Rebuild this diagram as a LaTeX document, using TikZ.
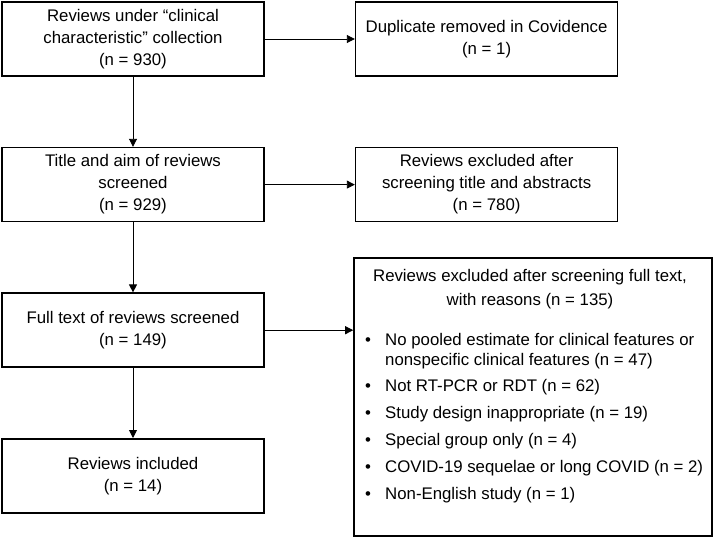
\documentclass[tikz,border=0pt]{standalone}
\usepackage{fontspec}
\setmainfont{Liberation Sans}
\usetikzlibrary{positioning}
\usetikzlibrary{arrows.meta}
\tikzset{
  stage/.style={draw, line width=1.6pt, minimum width=262pt, minimum height=74pt, align=center, inner sep=0pt},
  flow/.style={-{Triangle[length=8pt,width=8pt]}, line width=0.9pt},
}

\begin{document}
\begin{tikzpicture}[x=1pt,y=1pt,font=\fontsize{16.8}{22}\selectfont,node distance=70pt]
\useasboundingbox (0,0) rectangle (715,-538);
% main column
\node[stage] (l1) at (133,-39) {Reviews under “clinical\\characteristic” collection\\(n = 930)};
\node[stage, below=of l1] (l2) {Title and aim of reviews\\screened\\(n = 929)};
\node[stage, below=of l2] (l3) {Full text of reviews screened\\(n = 149)};
\node[stage, below=of l3] (l4) {Reviews included\\(n = 14)};
% exclusions
\node[stage, right=90pt of l1] (r1) {Duplicate removed in Covidence\\(n = 1)};
\node[stage, right=90pt of l2] (r2) {Reviews excluded after\\screening title and abstracts\\(n = 780)};
\node[draw, line width=1.6pt, minimum width=358pt, minimum height=278pt] (r3) at (533,-397) {};
\node[align=center, anchor=base] (r3hd) at (530,-305) {Reviews excluded after screening full text,\\[2pt]with reasons (n = 135)};
\foreach \i/\y/\ty/\txt in {1/345/365/{No pooled estimate for clinical features or\\[-2pt]nonspecific clinical features (n = 47)},
    2/391.5/391.5/{Not RT-PCR or RDT (n = 62)},
    3/418.5/418.5/{Study design inappropriate (n = 19)},
    4/445.5/445.5/{Special group only (n = 4)},
    5/472.5/472.5/{COVID-19 sequelae or long COVID (n = 2)},
    6/499/499/{Non-English study (n = 1)}}{
  \node[anchor=base] (dot\i) at (368,-\y) {\textbullet};
  \node[anchor=base west, align=left, inner sep=0pt] (item\i) at (385,-\ty) {\txt};
}
% arrows
\draw[flow] (l1) -- (l2);
\draw[flow] (l2) -- (l3);
\draw[flow] (l3) -- (l4);
\draw[flow] (l1.east) -- (l1.east -| r1.west);
\draw[flow] (l2.east) -- (l2.east -| r2.west);
\draw[flow] (l3.east) -- (l3.east -| r3.west);
\end{tikzpicture}
\end{document}
